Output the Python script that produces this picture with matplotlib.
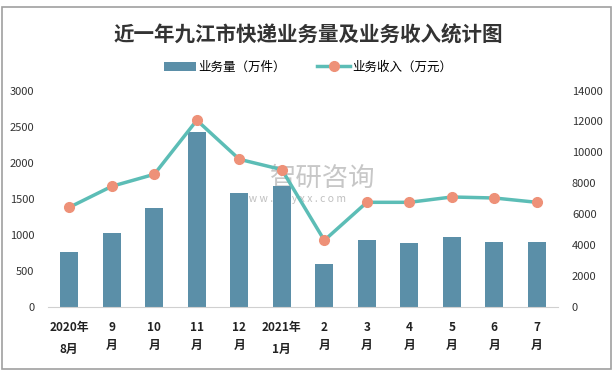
import matplotlib.pyplot as plt
from matplotlib.patches import Rectangle

plt.rcParams['font.family'] = ['Noto Sans CJK SC', 'DejaVu Sans']

months = ['2020年\n8月', '9\n月', '10\n月', '11\n月', '12\n月', '2021年\n1月',
          '2\n月', '3\n月', '4\n月', '5\n月', '6\n月', '7\n月']
volume = [772, 1035, 1372, 2421, 1589, 1677, 596, 938, 896, 970, 910, 910]
income = [6460, 7817, 8593, 12081, 9561, 8895, 4329, 6784, 6784, 7128, 7063, 6784]

bar_color = '#5b8fa8'
line_color = '#5cbdb6'
dot_color = '#ee9178'

fig = plt.figure(figsize=(6.16, 3.74), dpi=100)
fig.patches.append(Rectangle((0.004, 0.013), 0.988, 0.967, transform=fig.transFigure,
                             fill=False, edgecolor='#a0a0a0', linewidth=1.2))

ax = fig.add_axes([0.078, 0.178, 0.828, 0.58])
ax.patch.set_alpha(0)
x = range(len(months))
b = ax.bar(x, volume, width=0.43, color=bar_color, label='业务量（万件）', zorder=2)
ax.set_ylim(0, 3000)
ax.set_yticks(range(0, 3001, 500))
ax.set_xlim(-0.5, len(months) - 0.5)
ax.set_xticks(list(x))
ax.set_xticklabels(months, fontsize=8.5, fontweight='bold', color='#222222')
for lab in ax.get_xticklabels():
    lab.set_linespacing(1.9 if '年' in lab.get_text() else 1.5)
ax.tick_params(axis='x', length=0, pad=10)
ax.tick_params(axis='y', length=0, labelsize=8, labelcolor='#333333', pad=10)
for s in ['top', 'left', 'right']:
    ax.spines[s].set_visible(False)
ax.spines['bottom'].set_color('#d0d0d0')

ax2 = ax.twinx()
ax2.patch.set_alpha(0)
l, = ax2.plot(x, income, color=line_color, linewidth=2.5, marker='o', markersize=7,
              markerfacecolor=dot_color, markeredgecolor=dot_color, label='业务收入（万元）', zorder=3)
ax2.set_ylim(0, 14000)
ax2.set_yticks(range(0, 14001, 2000))
ax2.tick_params(axis='y', length=0, labelsize=8, labelcolor='#333333', pad=10)
for s in ['top', 'left', 'right', 'bottom']:
    ax2.spines[s].set_visible(False)

# watermark (behind the plot)
fig.text(0.438, 0.522, '智研咨询', fontsize=19, color='#bdbdbd', alpha=0.85, ha='left', va='center', zorder=-1)
fig.text(0.386, 0.467, 'w w w . c h y x x . c o m', fontsize=7.5, color='#c0c0c0', ha='left', va='center', zorder=-1)

fig.suptitle('近一年九江市快递业务量及业务收入统计图', x=0.5, y=0.935, fontsize=14.8,
             fontweight='bold', color='#333333')
fig.legend(handles=[b, l], loc='center', bbox_to_anchor=(0.5, 0.82), ncol=2, frameon=False,
           fontsize=9, handlelength=2.6, columnspacing=2.5, handletextpad=0.2)

fig.savefig('out.png')
